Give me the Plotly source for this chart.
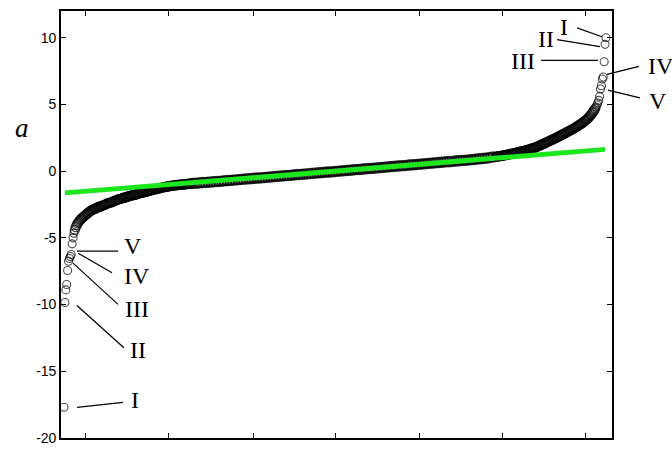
import plotly.graph_objects as go

# ---------------- data ----------------
# sorted values 'a' against their rank; every rank in the curved parts,
# every third rank in the nearly straight middle part
ranks = list(range(1, 142)) + list(range(142, 478, 3)) + list(range(478, 601))

values_low = [
    -17.7, -9.85, -8.9, -8.5, -7.45, -6.75, -6.55, -6.4, -6.25, -5.45,
    -5.0, -4.65, -4.4, -4.2, -4.05, -3.92, -3.82, -3.73, -3.65, -3.58,
    -3.51, -3.45, -3.39, -3.33, -3.28,
    -3.22, -3.16, -3.1, -3.05, -3.0, -2.95, -2.92, -2.88, -2.85, -2.82,
    -2.79, -2.76, -2.73, -2.7, -2.67, -2.65, -2.62, -2.6, -2.57, -2.55,
    -2.52, -2.49, -2.45, -2.42, -2.4, -2.38, -2.36, -2.34, -2.31, -2.29,
    -2.26, -2.23, -2.2, -2.17, -2.15, -2.12, -2.1, -2.08, -2.06, -2.04,
    -2.02, -2.0, -1.98, -1.96, -1.94, -1.92, -1.89, -1.87, -1.85, -1.84,
    -1.82, -1.8, -1.79, -1.77, -1.75, -1.73, -1.71, -1.69, -1.67, -1.65,
    -1.63, -1.62, -1.6, -1.58, -1.57, -1.55, -1.53, -1.51, -1.49, -1.47,
    -1.46, -1.44, -1.42, -1.41, -1.39, -1.37, -1.36, -1.34, -1.32, -1.31,
    -1.29, -1.27, -1.26, -1.24, -1.22, -1.21, -1.19, -1.18, -1.16, -1.15,
    -1.14, -1.13, -1.12, -1.11, -1.1, -1.09, -1.08, -1.07, -1.06, -1.05,
    -1.04, -1.03, -1.02, -1.02, -1.01, -1.0, -1.0, -0.99, -0.98, -0.98,
    -0.97, -0.96, -0.96, -0.95, -0.94, -0.94]
values_mid = [
    -0.93, -0.91, -0.9, -0.88, -0.86, -0.85, -0.83, -0.82, -0.8, -0.78,
    -0.77, -0.75, -0.73, -0.71, -0.7, -0.68, -0.66, -0.64, -0.63, -0.61,
    -0.59, -0.58, -0.56, -0.54, -0.52, -0.51, -0.49, -0.47, -0.45, -0.44,
    -0.42, -0.4, -0.38, -0.37, -0.35, -0.33, -0.32, -0.3, -0.28, -0.26,
    -0.25, -0.23, -0.21, -0.19, -0.18, -0.16, -0.14, -0.13, -0.11, -0.09,
    -0.07, -0.06, -0.04, -0.02, 0.0, 0.01, 0.03, 0.05, 0.06, 0.08,
    0.1, 0.12, 0.13, 0.15, 0.17, 0.19, 0.2, 0.22, 0.24, 0.26,
    0.27, 0.29, 0.31, 0.33, 0.34, 0.36, 0.38, 0.4, 0.41, 0.43,
    0.45, 0.47, 0.48, 0.5, 0.52, 0.54, 0.56, 0.57, 0.59, 0.61,
    0.63, 0.64, 0.66, 0.68, 0.7, 0.71, 0.73, 0.75, 0.77, 0.79,
    0.8, 0.82, 0.84, 0.86, 0.88, 0.9, 0.92, 0.94, 0.97, 0.99,
    1.02, 1.05]
values_high = [
    1.08, 1.09, 1.1, 1.11, 1.12, 1.13, 1.14, 1.15, 1.17, 1.18,
    1.19, 1.21, 1.22, 1.23, 1.25, 1.26, 1.28, 1.29, 1.31, 1.32,
    1.34, 1.35, 1.37, 1.38, 1.4, 1.42, 1.43, 1.45, 1.47, 1.48,
    1.5, 1.52, 1.53, 1.55, 1.57, 1.59, 1.61, 1.63, 1.65, 1.67,
    1.69, 1.71, 1.73, 1.76, 1.78, 1.81, 1.84, 1.87, 1.9, 1.93,
    1.96, 1.99, 2.02, 2.05, 2.08, 2.11, 2.15, 2.18, 2.21, 2.25,
    2.28, 2.31, 2.34, 2.37, 2.4, 2.44, 2.47, 2.5, 2.54, 2.57,
    2.61, 2.64, 2.68, 2.71, 2.75, 2.78, 2.82, 2.85, 2.89, 2.93,
    2.96, 3.0, 3.04, 3.07, 3.11, 3.15, 3.18, 3.22, 3.26, 3.31,
    3.35, 3.39, 3.44, 3.48, 3.53, 3.57, 3.62, 3.67, 3.73, 3.78,
    3.84, 3.89, 3.95, 4.03, 4.11, 4.2,
    4.28, 4.38, 4.47, 4.57, 4.68, 4.8, 4.95, 5.1, 5.3, 5.6,
    6.15, 6.4, 6.9, 7.05, 8.2, 9.5, 10.0]
values = values_low + values_mid + values_high
n = min(len(ranks), len(values))
ranks, values = ranks[:n], values[:n]

# reference (fit) line
fit_x = [2, 599]
fit_y = [-1.63, 1.63]

# labelled extreme points: (label, rank)
labels_low = [("I", 1), ("II", 2), ("III", 6), ("IV", 9), ("V", 10)]
labels_high = [("I", 600), ("II", 599), ("III", 598), ("IV", 597), ("V", 594)]

y_ticks = [-20, -15, -10, -5, 0, 5, 10]

# ---------------- layout geometry ----------------
W, H = 672, 454
ML, MR, MT, MB = 61, 60, 11, 8
PW, PH = W - ML - MR, H - MT - MB
XR = [-2.316, 606.66]
YR = [-20, 12]
x_tickvals = [25.3, 117.0, 209.9, 301.6, 393.4, 485.1, 577.9]

# callout offsets in pixels relative to the labelled point:
# (line start dx,dy), (line end dx,dy), (label dx,dy)
offs_low = {
    "I":   ((13, 0), (59, -5), (71, -7)),
    "II":  ((12, 3), (59, 46), (73, 48)),
    "III": ((4.5, 2), (49.5, 44), (68.5, 49)),
    "IV":  ((6.8, -1.4), (40.8, 18.6), (65.8, 21.6)),
    "V":   ((4.9, 7.4), (45.9, 7.4), (60.9, 2.4)),
}
offs_high = {
    "I":   ((-4, -1), (-29, -10), (-42, -11)),
    "II":  ((-5.1, 2.25), (-48.1, -4.75), (-59.1, -5.75)),
    "III": ((-6.2, -1.3), (-63.2, -1.3), (-81.2, -0.3)),
    "IV":  ((3.7, -2.8), (35.7, -10.8), (57.7, -10.8)),
    "V":   ((7.4, 1), (39.4, 9), (57.4, 12)),
}

# marker styling by zone: sparse tails, dense curved parts, sampled middle
def zone(r):
    if r <= 12 or r >= 589:
        return (8, 1.1)
    if 142 <= r <= 477:
        return (9.5, 2.0)
    return (9, 1.4)

m_size = [zone(r)[0] for r in ranks]
line_w = [zone(r)[1] for r in ranks]

fig = go.Figure()
fig.add_trace(go.Scatter(
    x=ranks, y=values, mode="markers",
    marker=dict(symbol="circle-open", size=m_size, color="black", line=dict(width=line_w)),
    showlegend=False, hoverinfo="skip"))
fig.add_trace(go.Scatter(
    x=fit_x, y=fit_y, mode="lines",
    line=dict(color="#1ee61e", width=5), showlegend=False, hoverinfo="skip"))


def to_paper(r, v):
    return (r - XR[0]) / (XR[1] - XR[0]), (v - YR[0]) / (YR[1] - YR[0])


shapes, annots = [], []
val_of = dict(zip(ranks, values))
for group, offs in ((labels_low, offs_low), (labels_high, offs_high)):
    for lab, r in group:
        px, py = to_paper(r, val_of[r])
        (sx, sy), (ex, ey), (lx, ly) = offs[lab]
        shapes.append(dict(type="line", xref="paper", yref="paper",
                           x0=px + sx / PW, y0=py - sy / PH,
                           x1=px + ex / PW, y1=py - ey / PH,
                           line=dict(color="black", width=1.2)))
        annots.append(dict(xref="paper", yref="paper", x=px + lx / PW, y=py - ly / PH,
                           text=lab, showarrow=False, xanchor="center", yanchor="middle",
                           font=dict(family="Liberation Serif", size=24, color="black")))

annots.append(dict(xref="paper", yref="paper", x=(22 - ML) / PW, y=(H - MB - 130) / PH,
                   text="<i>a</i>", showarrow=False, xanchor="center", yanchor="middle",
                   font=dict(family="Liberation Serif", size=27, color="black")))

axis_common = dict(showline=True, linecolor="black", linewidth=1.6, mirror="ticks",
                   ticks="inside", ticklen=5, tickcolor="black", tickwidth=1,
                   showgrid=False, zeroline=False)

fig.update_layout(
    width=W, height=H,
    margin=dict(l=ML, r=MR, t=MT, b=MB),
    paper_bgcolor="white", plot_bgcolor="white",
    xaxis=dict(range=XR, tickvals=x_tickvals, showticklabels=False, **axis_common),
    yaxis=dict(range=YR, tickvals=y_ticks, ticktext=[str(t) for t in y_ticks],
               tickfont=dict(family="Liberation Sans", size=14, color="black"),
               **axis_common),
    shapes=shapes, annotations=annots,
)

fig.write_html("out.html")
